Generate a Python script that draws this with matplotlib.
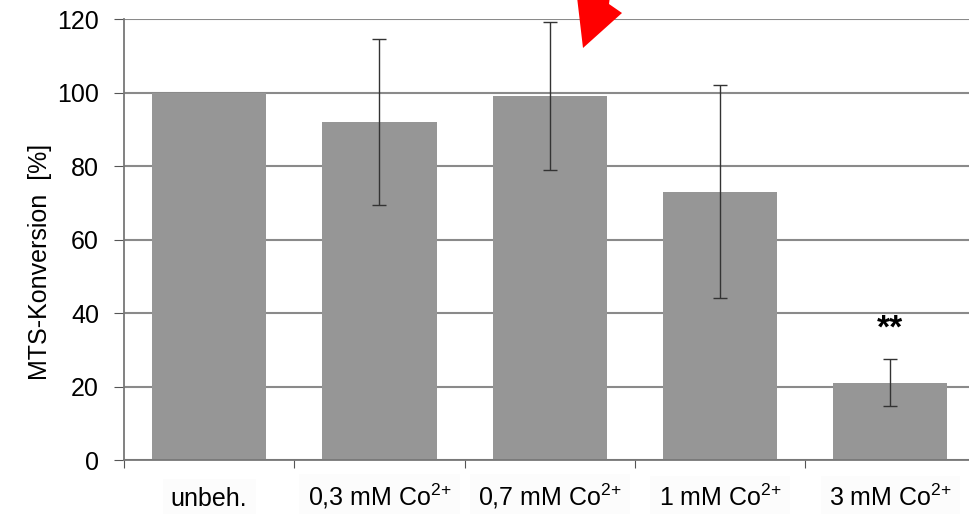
import matplotlib
matplotlib.use('Agg')
from matplotlib import pyplot as plt
from matplotlib.patches import Polygon
import matplotlib.transforms as mtransforms
import numpy as np

plt.rcParams['font.family'] = ['Liberation Sans', 'DejaVu Sans']
plt.rcParams['mathtext.default'] = 'regular'

# Data
categories = ['unbeh.', '0,3 mM Co$^{2{+}}$', '0,7 mM Co$^{2{+}}$', '1 mM Co$^{2{+}}$', '3 mM Co$^{2{+}}$']
values = [100, 92, 99, 73, 21]
errors = [0, 22.6, 20.1, 29, 6.4]
yticks = [0, 20, 40, 60, 80, 100, 120]

W, H = 970, 514
fig = plt.figure(figsize=(W / 100, H / 100), dpi=100)
ax = fig.add_axes([124 / W, 1 - 460 / H, 851.5 / W, 441 / H])

x = np.arange(len(categories))
ax.bar(x, values, width=0.67, color='#969696', zorder=2)
for xi, v, e in zip(x, values, errors):
    if e > 0:
        ax.errorbar(xi, v, yerr=e, fmt='none', ecolor='#333333', elinewidth=1,
                    capsize=5, capthick=1, zorder=3)

ax.set_xlim(-0.5, len(categories) - 0.5)
ax.set_ylim(0, 120)
ax.set_yticks(yticks)
ax.grid(axis='y', color='#8a8a8a', linewidth=1.5, zorder=1)

# category boundaries as ticks, labels drawn on a common baseline
ax.set_xticks(x - 0.5)
ax.set_xticklabels([])
ax.tick_params(axis='x', length=6, color='#555555', direction='out')
trans = mtransforms.blended_transform_factory(ax.transData, ax.transAxes)
for xi, cat in zip(x, categories):
    ax.text(xi, -0.104, cat, transform=trans, ha='center', va='baseline',
            fontsize=18, clip_on=False,
            bbox=dict(facecolor='#fcfcfc', edgecolor='none', pad=6))

ax.tick_params(axis='y', length=7, color='#555555', labelsize=18, pad=11)

for s in ['top', 'right']:
    ax.spines[s].set_visible(False)
ax.spines['left'].set_color('#777777')
ax.spines['bottom'].set_color('#777777')
ax.spines['left'].set_linewidth(1.3)
ax.spines['bottom'].set_linewidth(1.3)

ax.set_ylabel('MTS-Konversion  [%]', fontsize=18)
ax.yaxis.set_label_coords(-0.085, 0.45)

# significance marker
ax.text(x[-1], 33.2, '**', ha='center', va='baseline', fontsize=24, fontweight='bold')

# red arrow head pointing at the 0,7 mM bar
arrow_px = [(583, 48), (622, 13), (609, 4), (612, -20), (575, -20)]
arrow = Polygon([(px / W, 1 - py / H) for px, py in arrow_px], closed=True,
                facecolor='#ff0000', edgecolor='none', transform=fig.transFigure,
                clip_on=False, zorder=10)
fig.patches.append(arrow)

fig.savefig('out.png', dpi=100)
